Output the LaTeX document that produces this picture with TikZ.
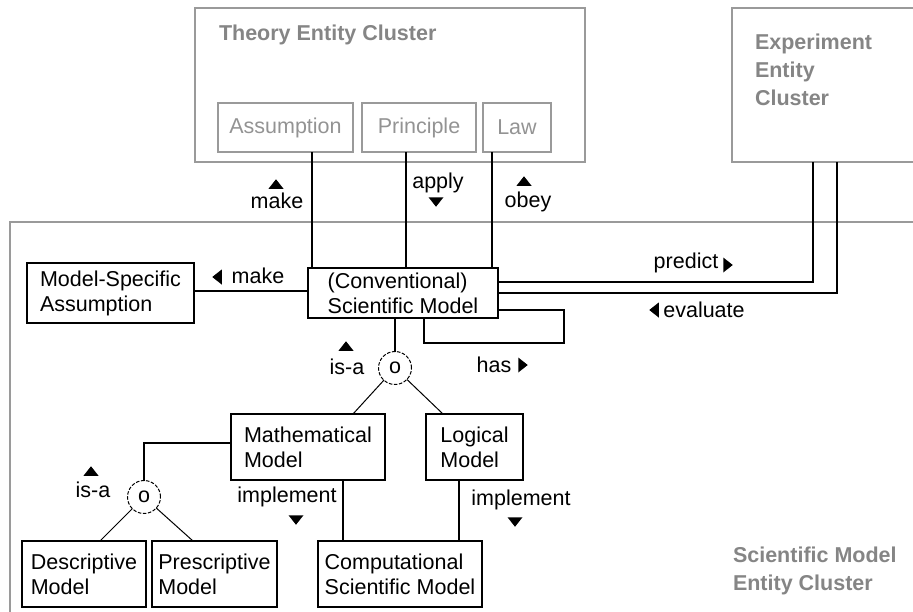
\documentclass[tikz,border=0pt]{standalone}
\usepackage{fontspec}
\setmainfont{Liberation Sans}
\usetikzlibrary{calc}
\definecolor{clusterline}{HTML}{9A9A9A}
\definecolor{clustertext}{HTML}{858585}
\definecolor{theorytext}{HTML}{939393}
\begin{document}
\begin{tikzpicture}[x=1pt,y=-1pt,
  every node/.style={font=\fontsize{21.5}{25}\selectfont, inner sep=0pt, outer sep=0pt},
  entity/.style n args={2}{draw=black, line width=1.3pt, anchor=north west,
    minimum width=#1, minimum height=#2, align=left},
  theorybox/.style n args={2}{draw=clusterline, line width=1.2pt, anchor=north west,
    minimum width=#1, minimum height=#2, text=theorytext},
  cluster/.style n args={2}{draw=clusterline, line width=1.2pt, anchor=north west,
    minimum width=#1, minimum height=#2},
  clustertitle/.style={font=\bfseries\fontsize{21.5}{28}\selectfont, text=clustertext,
    anchor=west, align=left},
  gen/.style={draw=black, circle, line width=1pt, dash pattern=on 3.5pt off 1.6pt,
    minimum size=33pt},
  link/.style={draw=black, line width=1.3pt},
  thinlink/.style={draw=black, line width=1pt},
  lbl/.style={anchor=base}]
% direction markers of the relation labels
\newcommand\relup[1]{\fill[shift={#1}] (-7.5,4.75) -- (7.5,4.75) -- (0,-4.75) -- cycle;}
\newcommand\reldown[1]{\fill[shift={#1}] (-7.5,-4.75) -- (7.5,-4.75) -- (0,4.75) -- cycle;}
\newcommand\relleft[1]{\fill[shift={#1}] (4.75,-7.5) -- (4.75,7.5) -- (-4.75,0) -- cycle;}
\newcommand\relright[1]{\fill[shift={#1}] (-4.75,-7.5) -- (-4.75,7.5) -- (4.75,0) -- cycle;}
\useasboundingbox (0,0) rectangle (913,611);
\clip (0,0) rectangle (913,611);

% clusters
\node[cluster={390pt}{154pt}] (theory) at (195,8) {};
\node[clustertitle] (theorytitle) at (219,35) {Theory Entity Cluster};
\node[cluster={200pt}{154pt}] (experiment) at (732,8) {};
\node[clustertitle] (exptitle) at (755,70) {Experiment\\Entity\\Cluster};
\node[cluster={920pt}{420pt}] (smcluster) at (10,222) {};
\node[clustertitle] (smtitle) at (733,571) {Scientific Model\\Entity Cluster};

% theory entities
\node[theorybox={135pt}{49pt}] (assumption) at (218,103) {Assumption};
\node[theorybox={114pt}{49pt}] (principle) at (362,103) {Principle};
\node[theorybox={68pt}{49pt}] (law) at (483,103) {Law};

% scientific model entities
\node[entity={167pt}{60pt}] (msa) at (27,263) {Model-Specific\\Assumption};
\node[entity={190pt}{50pt}] (sm) at (308,268) {(Conventional)\\Scientific Model};
\node[entity={154pt}{66pt}] (math) at (231,414) {Mathematical\\Model};
\node[entity={97pt}{66pt}] (logical) at (426,414) {Logical\\Model};
\node[entity={124pt}{66pt}] (descr) at (22,541) {Descriptive\\Model};
\node[entity={125pt}{66pt}] (prescr) at (152,541) {Prescriptive\\Model};
\node[entity={164pt}{66pt}] (comp) at (318,541) {Computational\\Scientific Model};

% generalisation circles
\node[gen] (isa1) at (395,368) {o};
\node[gen] (isa2) at (144,497) {o};

% theory links
\draw[link] (assumption.south -| 312,0) -- (sm.north -| 312,0);
\draw[link] (principle.south -| 406,0) -- (sm.north -| 406,0);
\draw[link] (law.south -| 492,0) -- (sm.north -| 492,0);

% model-specific assumption
\draw[link] (msa.east |- 0,291) -- (sm.west |- 0,291);

% experiment links
\draw[link] (sm.east |- 0,282) -- (813,282) -- (experiment.south -| 813,0);
\draw[link] (sm.east |- 0,293) -- (837,293) -- (experiment.south -| 837,0);

% has (self relation)
\draw[link] (sm.east |- 0,310) -- (564,310) -- (564,343) -- (424,343) -- (sm.south -| 424,0);

% is-a hierarchy
\draw[link] (sm.south -| isa1) -- (isa1);
\draw[thinlink] (isa1) -- (math.north -| 353,0);
\draw[thinlink] (isa1) -- (logical.north -| 443,0);
\draw[link] (math.west |- 0,443) -| (isa2.north);
\draw[thinlink] (isa2) -- (descr.north -| 100,0);
\draw[thinlink] (isa2) -- (prescr.north -| 193,0);

% implement
\draw[link] (math.south -| 343,0) -- (comp.north -| 343,0);
\draw[link] (logical.south -| 459,0) -- (comp.north -| 459,0);

% relation labels
\node[lbl] (lmake1) at (277,208) {make};
\relup{(276,184)}
\node[lbl] (lapply) at (438,188) {apply};
\reldown{(436,202)}
\node[lbl] (lobey) at (528,207) {obey};
\relup{(524,181)}
\node[lbl] (lmake2) at (258,283) {make};
\relleft{(217,277)}
\node[lbl] (lpredict) at (686,268) {predict};
\relright{(728,265)}
\node[lbl] (levaluate) at (704,317) {evaluate};
\relleft{(654,310)}
\node[lbl] (lhas) at (494,372) {has};
\relright{(523,365)}
\node[lbl] (lisa1) at (347,374) {is-a};
\relup{(346,346)}
\node[lbl] (lisa2) at (93,497) {is-a};
\relup{(91,471)}
\node[lbl] (limpl1) at (287,502) {implement};
\reldown{(296,520)}
\node[lbl] (limpl2) at (521,505) {implement};
\reldown{(515,522)}
\end{tikzpicture}
\end{document}
